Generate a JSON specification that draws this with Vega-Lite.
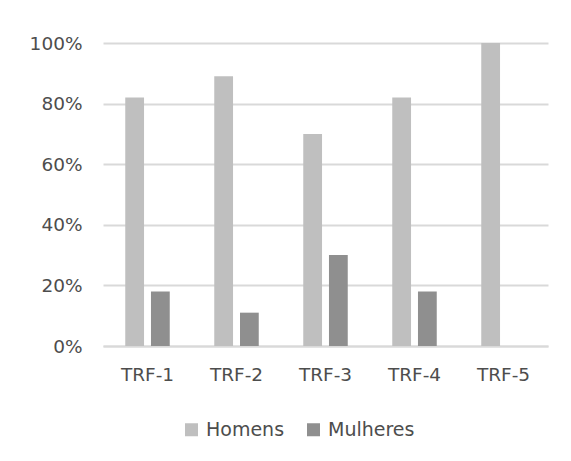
{
  "$schema": "https://vega.github.io/schema/vega-lite/v6.json",
  "autosize": {"type": "none"},
  "width": 445,
  "height": 303,
  "padding": {"left": 103, "top": 43, "right": 23, "bottom": 115},
  "background": "white",
  "config": {
    "view": {"stroke": null},
    "font": "DejaVu Sans",
    "axis": {"labelFont": "DejaVu Sans", "labelColor": "#4D4D4D", "labelFontSize": 18.5},
    "legend": {"labelFont": "DejaVu Sans", "labelColor": "#4D4D4D", "labelFontSize": 19}
  },
  "data": {
    "values": [
      {"trf": "TRF-1", "sexo": "Homens", "pct": 0.82},
      {"trf": "TRF-1", "sexo": "Mulheres", "pct": 0.18},
      {"trf": "TRF-2", "sexo": "Homens", "pct": 0.89},
      {"trf": "TRF-2", "sexo": "Mulheres", "pct": 0.11},
      {"trf": "TRF-3", "sexo": "Homens", "pct": 0.70},
      {"trf": "TRF-3", "sexo": "Mulheres", "pct": 0.30},
      {"trf": "TRF-4", "sexo": "Homens", "pct": 0.82},
      {"trf": "TRF-4", "sexo": "Mulheres", "pct": 0.18},
      {"trf": "TRF-5", "sexo": "Homens", "pct": 1.00},
      {"trf": "TRF-5", "sexo": "Mulheres", "pct": 0.00}
    ]
  },
  "mark": {"type": "bar"},
  "encoding": {
    "x": {
      "field": "trf", "type": "nominal",
      "scale": {"paddingInner": 0.5, "paddingOuter": 0.25},
      "axis": {"title": null, "labelAngle": 0, "ticks": false, "domainColor": "#D9D9D9", "domainWidth": 2, "labelPadding": 19}
    },
    "xOffset": {
      "field": "sexo", "type": "nominal",
      "scale": {"paddingInner": 0.27, "paddingOuter": 0}
    },
    "y": {
      "field": "pct", "type": "quantitative",
      "scale": {"domain": [0, 1], "nice": false},
      "axis": {"title": null, "format": ".0%", "values": [0, 0.2, 0.4, 0.6, 0.8, 1], "ticks": false, "domain": false, "gridColor": "#D9D9D9", "gridWidth": 2, "labelPadding": 21}
    },
    "color": {
      "field": "sexo", "type": "nominal",
      "scale": {"domain": ["Homens", "Mulheres"], "range": ["#BFBFBF", "#8F8F8F"]},
      "legend": {"title": null, "orient": "none", "direction": "horizontal", "legendX": 79, "legendY": 377, "symbolType": "square", "symbolSize": 169, "symbolStrokeWidth": 0, "columnPadding": 19, "labelOffset": 5}
    }
  }
}
